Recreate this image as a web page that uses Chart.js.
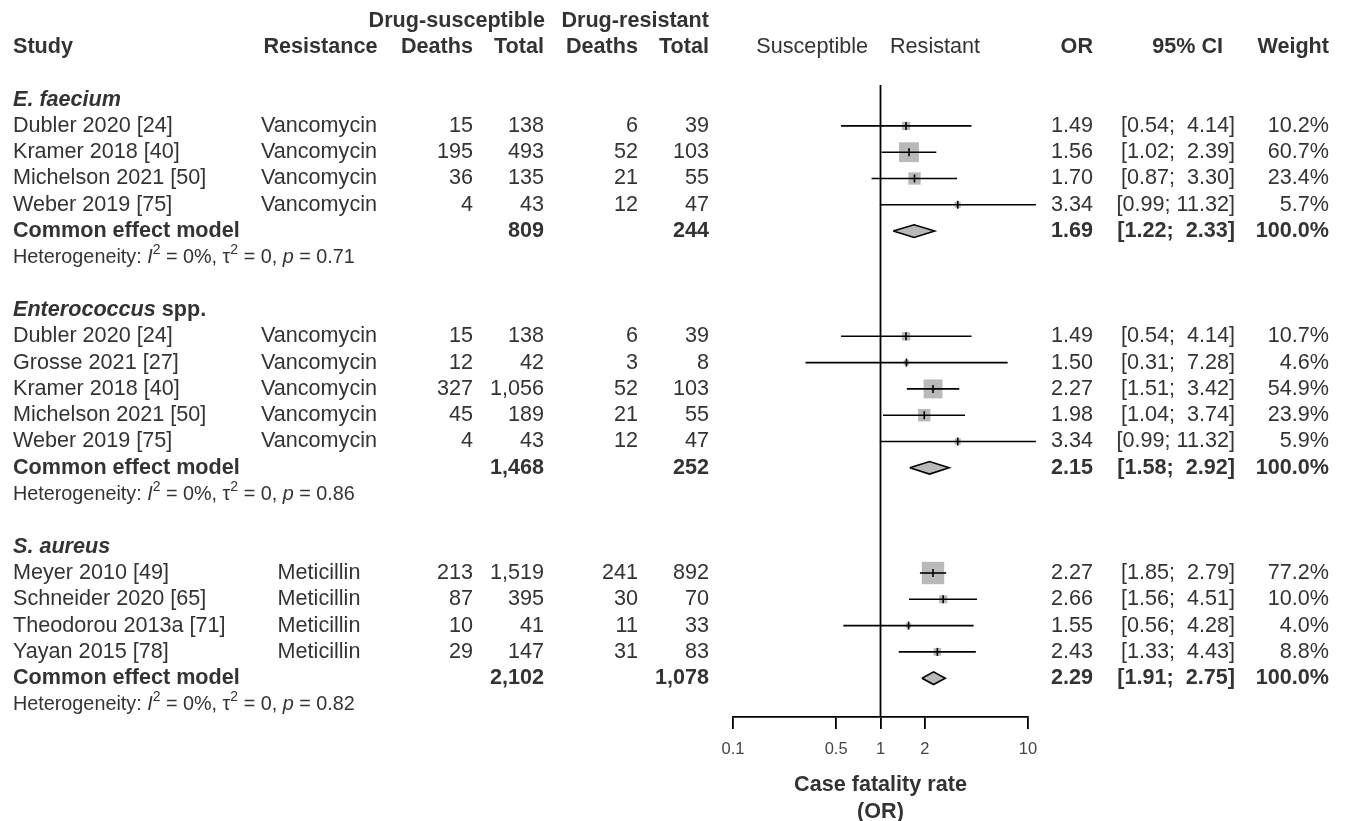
<!DOCTYPE html>
<html>
<head>
<meta charset="utf-8">
<script src="https://cdn.jsdelivr.net/npm/chart.js@4.4.1/dist/chart.umd.min.js"></script>
<style>
  html, body { margin: 0; padding: 0; background: #fff; }
  canvas { display: block; }
</style>
</head>
<body>
<canvas id="forest" width="1345" height="821"></canvas>
<script>
const groupNames = ["E. faecium", "Enterococcus spp.", "S. aureus"];
const studies = [
  "Dubler 2020 [24]", "Kramer 2018 [40]", "Michelson 2021 [50]", "Weber 2019 [75]",
  "Dubler 2020 [24]", "Grosse 2021 [27]", "Kramer 2018 [40]", "Michelson 2021 [50]", "Weber 2019 [75]",
  "Meyer 2010 [49]", "Schneider 2020 [65]", "Theodorou 2013a [71]", "Yayan 2015 [78]"
];
const studyGroup = [0, 0, 0, 0, 1, 1, 1, 1, 1, 2, 2, 2, 2];
const resistance = [
  "Vancomycin", "Vancomycin", "Vancomycin", "Vancomycin",
  "Vancomycin", "Vancomycin", "Vancomycin", "Vancomycin", "Vancomycin",
  "Meticillin", "Meticillin", "Meticillin", "Meticillin"
];
const deathsSusc = [15, 195, 36, 4, 15, 12, 327, 45, 4, 213, 87, 10, 29];
const totalSusc = [138, 493, 135, 43, 138, 42, 1056, 189, 43, 1519, 395, 41, 147];
const deathsRes = [6, 52, 21, 12, 6, 3, 52, 21, 12, 241, 30, 11, 31];
const totalRes = [39, 103, 55, 47, 39, 8, 103, 55, 47, 892, 70, 33, 83];
const oddsRatio = [1.49, 1.56, 1.70, 3.34, 1.49, 1.50, 2.27, 1.98, 3.34, 2.27, 2.66, 1.55, 2.43];
const ciLow = [0.54, 1.02, 0.87, 0.99, 0.54, 0.31, 1.51, 1.04, 0.99, 1.85, 1.56, 0.56, 1.33];
const ciHigh = [4.14, 2.39, 3.30, 11.32, 4.14, 7.28, 3.42, 3.74, 11.32, 2.79, 4.51, 4.28, 4.43];
const weight = [10.2, 60.7, 23.4, 5.7, 10.7, 4.6, 54.9, 23.9, 5.9, 77.2, 10.0, 4.0, 8.8];

const pooledOR = [1.69, 2.15, 2.29];
const pooledLow = [1.22, 1.58, 1.91];
const pooledHigh = [2.33, 2.92, 2.75];
const pooledTotalSusc = [809, 1468, 2102];
const pooledTotalRes = [244, 252, 1078];
const hetI2 = ["0%", "0%", "0%"];
const hetTau2 = ["0", "0", "0"];
const hetP = ["0.71", "0.86", "0.82"];

const tickValues = [0.1, 0.5, 1, 2, 10];
const tickLabels = ["0.1", "0.5", "1", "2", "10"];

// layout
const W = 1345, H = 821;
const ROW_H = 26.3, ROW0 = 47;          // pixel y of the header row
const PLOT_TOP = 85, PLOT_BOTTOM = 717;
const PLOT_LEFT = 733, PLOT_RIGHT = 1028;
const yMin = (PLOT_TOP - ROW0) / ROW_H;
const yMax = (PLOT_BOTTOM - ROW0) / ROW_H;
const FONT = '"Liberation Sans", Arial, Helvetica, sans-serif';
const FS = 21.6, FS_HET = 19.8;
const TEXT = "#333";
const GREY = "#b9b9b9";
const SQUARE_K = 2.55;     // square side = K * sqrt(weight)
const DIAMOND_H = 0.24;    // half height in rows

// row numbers
const studyRow = [], groupRow = [], commonRow = [], hetRow = [];
let r = 2;
groupNames.forEach((g, gi) => {
  const idx = studyGroup.map((v, i) => (v === gi ? i : -1)).filter(i => i >= 0);
  groupRow.push(r);
  idx.forEach((i, j) => { studyRow[i] = r + 1 + j; });
  commonRow.push(r + idx.length + 1);
  hetRow.push(r + idx.length + 2);
  r += idx.length + 4;
});

const fmtN = n => n.toLocaleString("en-US");
const fmtCI = (lo, hi) => "[" + lo.toFixed(2) + "; " + hi.toFixed(2).padStart(5, " ") + "]";

const datasets = [];
// reference line at OR = 1
datasets.push({
  data: [{ x: 1, y: yMin }, { x: 1, y: yMax }],
  showLine: true, borderColor: "#000", borderWidth: 1.8, pointRadius: 0, order: 5
});
// confidence intervals
studies.forEach((s, i) => {
  datasets.push({
    data: [{ x: ciLow[i], y: studyRow[i] }, { x: ciHigh[i], y: studyRow[i] }],
    showLine: true, borderColor: "#000", borderWidth: 1.6, pointRadius: 0, order: 2
  });
});
// weight squares
datasets.push({
  data: studies.map((s, i) => ({ x: oddsRatio[i], y: studyRow[i] })),
  showLine: false, pointStyle: "rect",
  pointRadius: weight.map(w => SQUARE_K * Math.sqrt(w) / Math.SQRT2),
  pointBackgroundColor: GREY, pointBorderWidth: 0, order: 3
});
// point estimate marks
datasets.push({
  data: studies.map((s, i) => ({ x: oddsRatio[i], y: studyRow[i] })),
  showLine: false, pointStyle: "line", pointRotation: 90, pointRadius: 4,
  pointBorderColor: "#000", pointBorderWidth: 1.6, order: 1
});
// pooled diamonds
groupNames.forEach((g, gi) => {
  const y = commonRow[gi];
  datasets.push({
    data: [
      { x: pooledLow[gi], y: y }, { x: pooledOR[gi], y: y - DIAMOND_H },
      { x: pooledHigh[gi], y: y }, { x: pooledOR[gi], y: y + DIAMOND_H },
      { x: pooledLow[gi], y: y }
    ],
    showLine: true, fill: "shape", backgroundColor: GREY,
    borderColor: "#000", borderWidth: 1.6, pointRadius: 0, order: 2
  });
});
datasets.forEach(d => { d.clip = false; });

function font(size, bold, italic) {
  return (italic ? "italic " : "") + (bold ? "bold " : "") + size + "px " + FONT;
}

function drawParts(ctx, parts, x, y) {
  ctx.textAlign = "left";
  parts.forEach(p => {
    ctx.font = p.font;
    ctx.fillText(p.t, x, y + (p.dy || 0));
    x += ctx.measureText(p.t).width;
  });
}

function txt(ctx, s, x, y, align, f) {
  ctx.font = f;
  ctx.textAlign = align;
  ctx.fillText(s, x, y);
}

const tablePlugin = {
  id: "table",
  afterDraw(chart) {
    const ctx = chart.ctx;
    const ys = chart.scales.y;
    const rowY = k => ys.getPixelForValue(k);
    const reg = font(FS, false, false), bold = font(FS, true, false);
    ctx.save();
    ctx.fillStyle = TEXT;
    ctx.textBaseline = "middle";

    // headers
    txt(ctx, "Drug-susceptible", 545, rowY(-1), "right", bold);
    txt(ctx, "Drug-resistant", 709, rowY(-1), "right", bold);
    const h = rowY(0);
    txt(ctx, "Study", 13, h, "left", bold);
    txt(ctx, "Resistance", 320.5, h, "center", bold);
    txt(ctx, "Deaths", 473, h, "right", bold);
    txt(ctx, "Total", 544, h, "right", bold);
    txt(ctx, "Deaths", 638, h, "right", bold);
    txt(ctx, "Total", 709, h, "right", bold);
    txt(ctx, "Susceptible", 868, h, "right", reg);
    txt(ctx, "Resistant", 890, h, "left", reg);
    txt(ctx, "OR", 1093, h, "right", bold);
    txt(ctx, "95% CI", 1223, h, "right", bold);
    txt(ctx, "Weight", 1329, h, "right", bold);

    // studies
    studies.forEach((s, i) => {
      const y = rowY(studyRow[i]);
      txt(ctx, s, 13, y, "left", reg);
      txt(ctx, resistance[i], 319, y, "center", reg);
      txt(ctx, fmtN(deathsSusc[i]), 473, y, "right", reg);
      txt(ctx, fmtN(totalSusc[i]), 544, y, "right", reg);
      txt(ctx, fmtN(deathsRes[i]), 638, y, "right", reg);
      txt(ctx, fmtN(totalRes[i]), 709, y, "right", reg);
      txt(ctx, oddsRatio[i].toFixed(2), 1093, y, "right", reg);
      txt(ctx, fmtCI(ciLow[i], ciHigh[i]), 1235, y, "right", reg);
      txt(ctx, weight[i].toFixed(1) + "%", 1329, y, "right", reg);
    });

    groupNames.forEach((g, gi) => {
      // subgroup title
      const m = g.match(/^(.*?)( spp\.)?$/);
      const parts = [{ t: m[1], font: font(FS, true, true) }];
      if (m[2]) parts.push({ t: m[2], font: bold });
      drawParts(ctx, parts, 13, rowY(groupRow[gi]));

      // pooled row
      const y = rowY(commonRow[gi]);
      txt(ctx, "Common effect model", 13, y, "left", bold);
      txt(ctx, fmtN(pooledTotalSusc[gi]), 544, y, "right", bold);
      txt(ctx, fmtN(pooledTotalRes[gi]), 709, y, "right", bold);
      txt(ctx, pooledOR[gi].toFixed(2), 1093, y, "right", bold);
      txt(ctx, fmtCI(pooledLow[gi], pooledHigh[gi]), 1235, y, "right", bold);
      txt(ctx, "100.0%", 1329, y, "right", bold);

      // heterogeneity
      const hr = font(FS_HET, false, false), hi = font(FS_HET, false, true);
      const sup = font(14, false, false);
      drawParts(ctx, [
        { t: "Heterogeneity: ", font: hr },
        { t: "I", font: hi },
        { t: "2", font: sup, dy: -7 },
        { t: " = " + hetI2[gi] + ", ", font: hr },
        { t: "\u03c4", font: hr },
        { t: "2", font: sup, dy: -7 },
        { t: " = " + hetTau2[gi] + ", ", font: hr },
        { t: "p", font: hi },
        { t: " = " + hetP[gi], font: hr }
      ], 13, rowY(hetRow[gi]));
    });
    ctx.restore();
  }
};

new Chart(document.getElementById("forest"), {
  type: "scatter",
  data: { datasets },
  options: {
    responsive: false,
    animation: false,
    events: [],
    layout: { padding: { left: PLOT_LEFT, right: W - PLOT_RIGHT, top: PLOT_TOP, bottom: 0 } },
    plugins: { legend: { display: false }, tooltip: { enabled: false } },
    scales: {
      x: {
        type: "logarithmic",
        position: "bottom",
        min: 0.1,
        max: 10,
        afterBuildTicks: s => { s.ticks = tickValues.map(v => ({ value: v })); },
        afterFit: s => { s.height = H - PLOT_BOTTOM; },
        ticks: {
          autoSkip: false, maxRotation: 0, minRotation: 0, padding: 11,
          color: "#444", font: { family: FONT, size: 16.5 },
          callback: (v, i) => tickLabels[i]
        },
        grid: { drawOnChartArea: false, drawTicks: true, tickLength: 12, color: "#000", lineWidth: 1.8 },
        border: { display: true, color: "#000", width: 1.8 },
        title: {
          display: true,
          text: ["Case fatality rate", "(OR)"],
          color: TEXT,
          font: { family: FONT, size: FS, weight: "bold", lineHeight: 1.25 },
          padding: { top: 0, bottom: -4.5 }
        }
      },
      y: {
        type: "linear",
        display: false,
        reverse: true,
        min: yMin,
        max: yMax
      }
    }
  },
  plugins: [tablePlugin]
});
</script>
</body>
</html>
